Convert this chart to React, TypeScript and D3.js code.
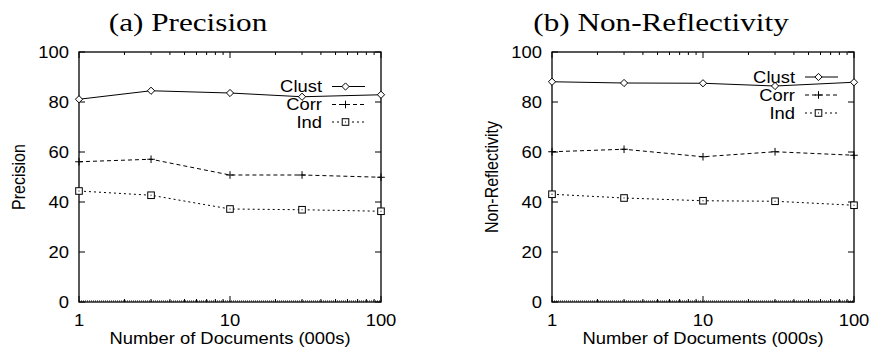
import React from "react";
import * as d3 from "d3";

const docs = [1, 3, 10, 30, 100];
const yTicks = [0, 20, 40, 60, 80, 100];
const xMajor = [1, 10, 100];
const xMinor = [2, 3, 4, 5, 6, 7, 8, 9, 20, 30, 40, 50, 60, 70, 80, 90];

const precClust = [81.1, 84.5, 83.6, 82.1, 82.9];
const precCorr = [56.1, 57.1, 50.8, 50.8, 49.9];
const precInd = [44.4, 42.7, 37.2, 36.9, 36.3];

const nrClust = [88.1, 87.6, 87.5, 86.4, 87.9];
const nrCorr = [60.1, 61.1, 58.1, 60.1, 58.7];
const nrInd = [43.1, 41.6, 40.5, 40.3, 38.7];

const seriesNames = ["Clust", "Corr", "Ind"];
const seriesDash = ["none", "4,3", "2,3"];
const seriesMarker = ["diamond", "plus", "square"];

const SX = 1.15;
const SANS = "'Liberation Sans', Arial, Helvetica, sans-serif";
const SERIF = "'Liberation Serif', 'Times New Roman', serif";

function T({ x, y, children, anchor = "middle", size = 16, family = SANS, sx = SX, rotate = 0, baseline = "central" }: any) {
  return (
    <g transform={`translate(${x},${y}) scale(${sx},1) rotate(${rotate})`}>
      <text x={0} y={0} textAnchor={anchor} dominantBaseline={baseline} fontSize={size} fontFamily={family} fill="#000">
        {children}
      </text>
    </g>
  );
}

function Marker({ type, x, y }: any) {
  if (type === "diamond") {
    const r = 3.6;
    return <path d={`M${x},${y - r}L${x + r},${y}L${x},${y + r}L${x - r},${y}Z`} fill="#fff" stroke="#000" strokeWidth={1} />;
  }
  if (type === "square") {
    const r = 3.3;
    return (
      <g>
        <rect x={x - r} y={y - r} width={2 * r} height={2 * r} fill="#fff" stroke="#000" strokeWidth={1} />
        <rect x={x - 0.5} y={y - 0.5} width={1} height={1} fill="#000" />
      </g>
    );
  }
  const r = 3.8;
  return <path d={`M${x - r},${y}H${x + r}M${x},${y - r}V${y + r}`} stroke="#000" strokeWidth={1} fill="none" />;
}

function Panel({ ox, title, titleX, ylabel, ylabelX, series, legendY }: any) {
  const left = ox;
  const right = ox + 302;
  const top = 52;
  const bottom = 302;
  const x = d3.scaleLog().domain([1, 100]).range([left, right]);
  const y = d3.scaleLinear().domain([0, 100]).range([bottom, top]);
  const line = d3
    .line<number>()
    .x((_, i) => x(docs[i]))
    .y((v) => y(v));
  const legRight = right - 59;
  const sx0 = right - 49;
  const sx1 = right - 16;
  return (
    <g>
      <T x={titleX} y={31} size={26} family={SERIF} sx={1.2} baseline="alphabetic">
        {title}
      </T>
      {/* ticks */}
      {yTicks.map((t) => (
        <g key={"y" + t}>
          <line x1={left} x2={left + 6} y1={y(t)} y2={y(t)} stroke="#000" strokeWidth={1} />
          <line x1={right - 6} x2={right} y1={y(t)} y2={y(t)} stroke="#000" strokeWidth={1} />
          <T x={left - 10} y={y(t)} anchor="end">
            {String(t)}
          </T>
        </g>
      ))}
      {xMajor.map((t) => (
        <g key={"xm" + t}>
          <line x1={x(t)} x2={x(t)} y1={bottom} y2={bottom - 6} stroke="#000" strokeWidth={1} />
          <line x1={x(t)} x2={x(t)} y1={top} y2={top + 6} stroke="#000" strokeWidth={1} />
          <T x={x(t)} y={320}>
            {String(t)}
          </T>
        </g>
      ))}
      {xMinor.map((t) => (
        <g key={"xn" + t}>
          <line x1={x(t)} x2={x(t)} y1={bottom} y2={bottom - 3} stroke="#000" strokeWidth={1} />
          <line x1={x(t)} x2={x(t)} y1={top} y2={top + 3} stroke="#000" strokeWidth={1} />
        </g>
      ))}
      <line x1={left} x2={right} y1={bottom - 1} y2={bottom - 1} stroke="#000" strokeWidth={1} strokeDasharray="1,1" />
      <rect x={left} y={top} width={right - left} height={bottom - top} fill="none" stroke="#000" strokeWidth={1.3} />
      <T x={(left + right) / 2} y={338}>
        Number of Documents (000s)
      </T>
      <T x={ylabelX} y={177} rotate={-90}>
        {ylabel}
      </T>
      {/* series */}
      {series.map((vals: number[], si: number) => (
        <g key={"s" + si}>
          <path d={line(vals) || ""} fill="none" stroke="#000" strokeWidth={1} strokeDasharray={seriesDash[si]} />
          {vals.map((v, i) => (
            <Marker key={i} type={seriesMarker[si]} x={x(docs[i])} y={y(v)} />
          ))}
        </g>
      ))}
      {/* legend */}
      {seriesNames.map((n, si) => (
        <g key={"l" + n}>
          <T x={legRight} y={legendY[si]} anchor="end">
            {n}
          </T>
          <line x1={sx0} x2={sx1} y1={legendY[si]} y2={legendY[si]} stroke="#000" strokeWidth={1} strokeDasharray={seriesDash[si]} />
          <Marker type={seriesMarker[si]} x={(sx0 + sx1) / 2 - 3} y={legendY[si]} />
        </g>
      ))}
    </g>
  );
}

export default function App() {
  return (
    <svg width={872} height={350} style={{ position: "absolute", left: 0, top: 0, background: "#fff" }}>
      <rect x={0} y={0} width={872} height={350} fill="#fff" />
      <Panel
        ox={79}
        title="(a) Precision"
        titleX={188}
        ylabel="Precision"
        ylabelX={19}
        series={[precClust, precCorr, precInd]}
        legendY={[86.5, 104.5, 122]}
      />
      <Panel
        ox={552}
        title="(b) Non-Reflectivity"
        titleX={661}
        ylabel="Non-Reflectivity"
        ylabelX={492}
        series={[nrClust, nrCorr, nrInd]}
        legendY={[77, 95, 113]}
      />
    </svg>
  );
}
